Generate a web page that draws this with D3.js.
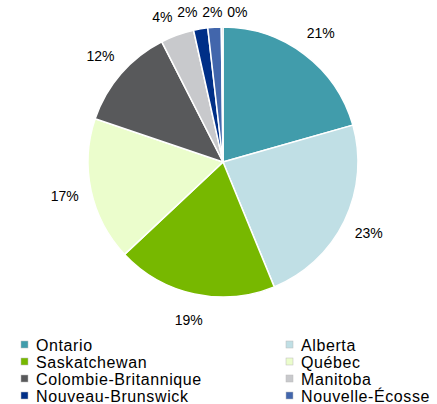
<!DOCTYPE html>
<html>
<head>
<meta charset="utf-8">
<script src="https://d3js.org/d3.v7.min.js"></script>
<style>
* { box-sizing:border-box; }
body { margin:0; background:#fff; }
text { font-family:'Liberation Sans', Arial, sans-serif; fill:#000; }
</style>
</head>
<body>
<div id="chart"></div>
<script>
// provinces, clockwise from 12 o'clock
var provinces = ["Ontario", "Alberta", "Saskatchewan", "Québec", "Colombie-Britannique",
                 "Manitoba", "Nouveau-Brunswick", "Nouvelle-Écosse", "Autres"];
var shares = [20.6, 23.2, 19.2, 17.2, 12.3, 4.0, 1.7, 1.6, 0.2];
var colors = ["#419cab", "#c0dfe5", "#77b800", "#ebfdcc", "#58595b",
              "#c8c9cc", "#002f87", "#4266ac", "#a0a0a0"];
// legend shows the first eight only, two per row
var legendNames = provinces.slice(0, 8);

var width = 437, height = 404;
var cx = 223, cy = 162, radius = 135;

var svg = d3.select("#chart").append("svg")
  .attr("width", width)
  .attr("height", height);

var pie = d3.pie().sort(null).value(function(d) { return d; });
var arcs = pie(shares);
var total = d3.sum(shares);

var arc = d3.arc().innerRadius(0).outerRadius(radius);
var labelArc = d3.arc().innerRadius(162).outerRadius(162);

var g = svg.append("g").attr("transform", "translate(" + cx + "," + cy + ")");

g.selectAll("path")
  .data(arcs)
  .enter()
  .append("path")
    .attr("d", arc)
    .style("fill", function(d, i) { return colors[i]; })
    .style("stroke", "#fff")
    .style("stroke-width", 1.5);

// label positions, then push the crowded ones at the top apart
var labels = arcs.map(function(d, i) {
  var c = labelArc.centroid(d);
  return { x: c[0], y: c[1], text: Math.round(d.value / total * 100) + "%" };
});
var crowded = labels.filter(function(l) { return l.y < -140; })
  .sort(function(a, b) { return a.x - b.x; });
for (var k = 0; k < 50; k++) {
  for (var j = 1; j < crowded.length; j++) {
    var gap = crowded[j].x - crowded[j - 1].x;
    if (gap < 25) {
      var push = (25 - gap) / 2;
      crowded[j].x += push;
      crowded[j - 1].x -= push;
    }
  }
}
crowded.forEach(function(l) { l.y = Math.max(l.y, -150); });
if (crowded.length) crowded[0].y = -145;

g.selectAll(".lbl")
  .data(labels)
  .enter()
  .append("text")
    .attr("class", "lbl")
    .attr("x", function(d) { return d.x; })
    .attr("y", function(d) { return d.y; })
    .attr("text-anchor", "middle")
    .attr("dominant-baseline", "central")
    .style("font-size", "14px")
    .text(function(d) { return d.text; });

// legend
var legend = svg.append("g").attr("transform", "translate(21,345)");
var item = legend.selectAll("g")
  .data(legendNames)
  .enter()
  .append("g")
    .attr("transform", function(d, i) {
      return "translate(" + (i % 2) * 265 + "," + Math.floor(i / 2) * 17 + ")";
    });
item.append("rect")
  .attr("x", 0).attr("y", -4)
  .attr("width", 7).attr("height", 7)
  .style("fill", function(d, i) { return colors[i]; })
  .style("stroke", "#bbb")
  .style("stroke-width", 0.5);
item.append("text")
  .attr("x", 15)
  .attr("y", 0)
  .attr("dominant-baseline", "central")
  .style("font-size", "16px")
  .style("letter-spacing", "0.6px")
  .text(function(d) { return d; });
</script>
</body>
</html>
